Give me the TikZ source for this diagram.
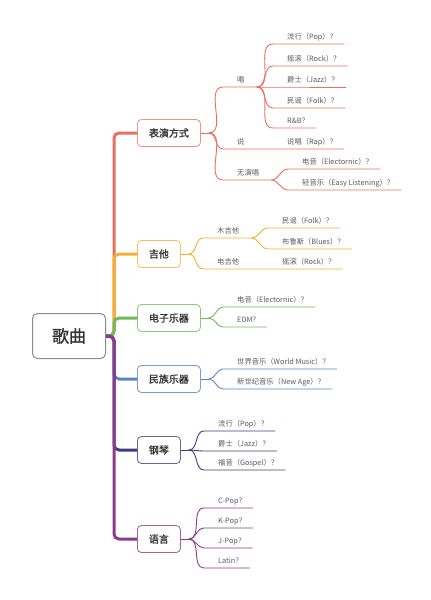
\documentclass[tikz,border=0pt]{standalone}
\usepackage{fontspec}
\setmainfont{Noto Sans CJK SC}
\newfontfamily\boxfont[FakeBold=1.2]{Noto Sans CJK SC}
\definecolor{cRed}{HTML}{E8705E}
\definecolor{cOrange}{HTML}{F2B12E}
\definecolor{cGreen}{HTML}{72B956}
\definecolor{cBlue}{HTML}{5B84C4}
\definecolor{cNavy}{HTML}{3F3D7F}
\definecolor{cPurple}{HTML}{8C3B8C}
\tikzset{trunk/.style={line width=3pt,rounded corners=5pt},
twig/.style={line width=0.9pt},
rootbox/.style={draw=black!45,line width=1pt,rounded corners=5pt,fill=white,
inner xsep=19.5pt,minimum height=45pt,anchor=west,text=black!80,
font=\boxfont\fontsize{17}{20}\selectfont},
topic/.style={rounded corners=4pt,line width=0.8pt,fill=white,inner xsep=11.5pt,
minimum height=27pt,anchor=west,text=black!80,font=\boxfont\fontsize{10}{12}\selectfont},
leaf/.style={inner xsep=0pt,inner ysep=4pt,text depth=0pt,anchor=south west,
text=black!65,font=\fontsize{7.3}{8}\selectfont}}

\begin{document}
\begin{tikzpicture}[x=1pt,y=-1pt]
\useasboundingbox (0,0) rectangle (431,600);
\node[rootbox] (root) at (32,336) {歌曲};
\node[topic,draw=cRed!75] (perf) at (137,133) {表演方式};
\node[topic,draw=cOrange!80] (guitar) at (137,254) {吉他};
\node[topic,draw=cGreen!80] (elec) at (137,318) {电子乐器};
\node[topic,draw=cBlue!80] (ethnic) at (137,379) {民族乐器};
\node[topic,draw=cNavy!80] (piano) at (137,450) {钢琴};
\node[topic,draw=cPurple!80] (lang) at (137,539) {语言};
% trunk
\draw[trunk,cRed] (root.east) -- ++(8,0) |- (perf.west);
\draw[trunk,cOrange] (root.east) -- ++(8,0) |- (guitar.west);
\draw[trunk,cGreen] (root.east) -- ++(8,0) |- (elec.west);
\draw[trunk,cBlue] (root.east) -- ++(8,0) |- (ethnic.west);
\draw[trunk,cNavy] (root.east) -- ++(8,0) |- (piano.west);
\draw[trunk,cPurple] (root.east) -- ++(8,0) |- (lang.west);

% 表演方式
\node[leaf] (chang) at (237,87) {唱};
\node[leaf] (shuo) at (237,149) {说};
\node[leaf] (wuyan) at (237,180) {无演唱};
\node[leaf] (pop1) at (287,44) {流行（Pop）？};
\node[leaf] (rock1) at (287,66) {摇滚（Rock）？};
\node[leaf] (jazz1) at (287,87) {爵士（Jazz）？};
\node[leaf] (folk1) at (287,108) {民谣（Folk）？};
\node[leaf] (rnb) at (287,128) {R\&B？};
\node[leaf] (rap) at (287,149) {说唱（Rap）？};
\node[leaf] (elec1) at (302,169) {电音（Electornic）？};
\node[leaf] (easy) at (302,190) {轻音乐（Easy Listening）？};
\draw[twig,cRed] (perf.east) -- ++(8,0) coordinate (perf-j);
\draw[twig,cRed] (perf-j) to[out=0,in=180] ([xshift=-14pt]chang.south west)
-- ([xshift=12pt]chang.south east) coordinate (chang-j);
\draw[twig,cRed] (perf-j) to[out=0,in=180] ([xshift=-14pt]shuo.south west)
-- ([xshift=7pt]rap.south east);
\draw[twig,cRed] (perf-j) to[out=0,in=180] ([xshift=-14pt]wuyan.south west)
-- ([xshift=12pt]wuyan.south east) coordinate (wuyan-j);
\foreach \n in {pop1,rock1,jazz1,folk1,rnb}
\draw[twig,cRed] (chang-j) to[out=0,in=180] ([xshift=-14pt]\n.south west)
-- ([xshift=7pt]\n.south east);
\foreach \n in {elec1,easy}
\draw[twig,cRed] (wuyan-j) to[out=0,in=180] ([xshift=-14pt]\n.south west)
-- ([xshift=7pt]\n.south east);

% 吉他
\node[leaf] (mu) at (217,238) {木吉他};
\node[leaf] (dian) at (217,269) {电吉他};
\node[leaf] (folk2) at (282,228) {民谣（Folk）？};
\node[leaf] (blues) at (282,249) {布鲁斯（Blues）？};
\node[leaf] (rock2) at (282,269) {摇滚（Rock）？};
\draw[twig,cOrange] (guitar.east) -- ++(8,0) coordinate (guitar-j);
\draw[twig,cOrange] (guitar-j) to[out=0,in=180] ([xshift=-14pt]mu.south west)
-- ([xshift=12pt]mu.south east) coordinate (mu-j);
\draw[twig,cOrange] (guitar-j) to[out=0,in=180] ([xshift=-14pt]dian.south west)
-- ([xshift=7pt]rock2.south east);
\foreach \n in {folk2,blues}
\draw[twig,cOrange] (mu-j) to[out=0,in=180] ([xshift=-14pt]\n.south west)
-- ([xshift=7pt]\n.south east);

% 电子乐器
\node[leaf] (elec2) at (237,307) {电音（Electornic）？};
\node[leaf] (edm) at (237,327) {EDM？};
\draw[twig,cGreen] (elec.east) -- ++(8,0) coordinate (elec-j);
\foreach \n in {elec2,edm}
\draw[twig,cGreen] (elec-j) to[out=0,in=180] ([xshift=-14pt]\n.south west)
-- ([xshift=7pt]\n.south east);

% 民族乐器
\node[leaf] (world) at (237,369) {世界音乐（World Music）？};
\node[leaf] (newage) at (237,389) {新世纪音乐（New Age）？};
\draw[twig,cBlue] (ethnic.east) -- ++(8,0) coordinate (ethnic-j);
\foreach \n in {world,newage}
\draw[twig,cBlue] (ethnic-j) to[out=0,in=180] ([xshift=-14pt]\n.south west)
-- ([xshift=7pt]\n.south east);

% 钢琴
\node[leaf] (pop2) at (218,431) {流行（Pop）？};
\node[leaf] (jazz2) at (218,451) {爵士（Jazz）？};
\node[leaf] (gospel) at (218,470) {福音（Gospel）？};
\draw[twig,cNavy] (piano.east) -- ++(8,0) coordinate (piano-j);
\foreach \n in {pop2,jazz2,gospel}
\draw[twig,cNavy] (piano-j) to[out=0,in=180] ([xshift=-14pt]\n.south west)
-- ([xshift=7pt]\n.south east);

% 语言
\node[leaf] (cpop) at (218,508) {C-Pop？};
\node[leaf] (kpop) at (218,528) {K-Pop？};
\node[leaf] (jpop) at (218,548) {J-Pop？};
\node[leaf] (latin) at (218,568) {Latin？};
\draw[twig,cPurple] (lang.east) -- ++(8,0) coordinate (lang-j);
\foreach \n in {cpop,kpop,jpop,latin}
\draw[twig,cPurple] (lang-j) to[out=0,in=180] ([xshift=-14pt]\n.south west)
-- ([xshift=7pt]\n.south east);
\end{tikzpicture}
\end{document}
